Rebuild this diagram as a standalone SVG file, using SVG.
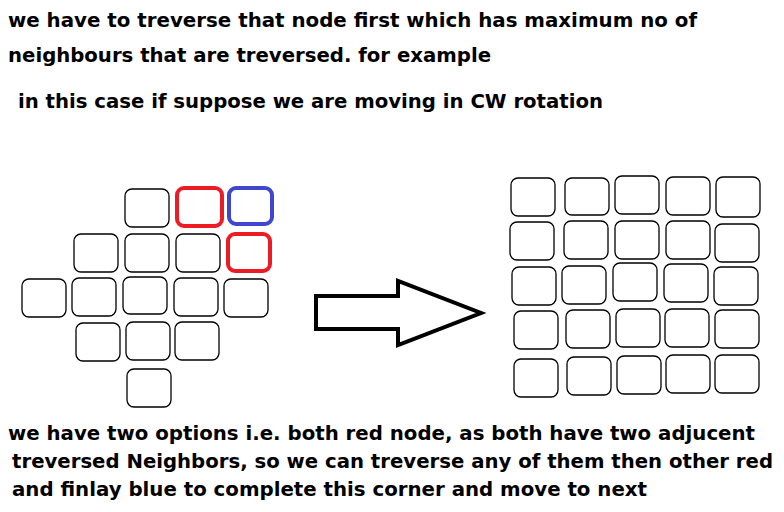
<svg xmlns="http://www.w3.org/2000/svg" width="784" height="512" viewBox="0 0 784 512">
<style>
text{font-family:"DejaVu Sans","Liberation Sans",sans-serif;font-weight:bold;font-size:20px;fill:#000}
.n{fill:#fff;stroke:#000;stroke-width:1.3}
.r{fill:#fff;stroke:#ed1c24;stroke-width:4}
.b{fill:#fff;stroke:#3f48cc;stroke-width:4}
</style>
<rect width="784" height="512" fill="#fff"/>
<g id="texts">
<text x="8" y="27" textLength="689" lengthAdjust="spacingAndGlyphs">we have to treverse that node first which has maximum no of</text>
<text x="8" y="62" textLength="483" lengthAdjust="spacingAndGlyphs">neighbours that are treversed. for example</text>
<text x="18" y="108" textLength="585" lengthAdjust="spacingAndGlyphs">in this case if suppose we are moving in CW rotation</text>
<text x="8" y="440" textLength="747" lengthAdjust="spacingAndGlyphs">we have two options i.e. both red node, as both have two adjucent</text>
<text x="12" y="468" textLength="761" lengthAdjust="spacingAndGlyphs">treversed Neighbors, so we can treverse any of them then other red</text>
<text x="12" y="496" textLength="635" lengthAdjust="spacingAndGlyphs">and finlay blue to complete this corner and move to next</text>
</g>
<g id="left-grid">
<rect id="L1" class="n" x="125" y="189" width="44" height="38" rx="7"/>
<rect id="L2" class="r" x="177" y="188" width="45" height="38" rx="7"/>
<rect id="L3" class="b" x="229" y="188" width="43" height="36" rx="7"/>
<rect id="L4" class="n" x="74" y="234" width="44" height="38" rx="7"/>
<rect id="L5" class="n" x="125" y="234" width="44" height="38" rx="7"/>
<rect id="L6" class="n" x="176" y="234" width="44" height="38" rx="7"/>
<rect id="L7" class="r" x="228" y="234" width="42" height="37" rx="7"/>
<rect id="L8" class="n" x="22" y="279" width="44" height="38" rx="7"/>
<rect id="L9" class="n" x="72" y="278" width="44" height="38" rx="7"/>
<rect id="L10" class="n" x="123" y="277" width="44" height="37" rx="7"/>
<rect id="L11" class="n" x="174" y="278" width="44" height="38" rx="7"/>
<rect id="L12" class="n" x="224" y="279" width="44" height="38" rx="7"/>
<rect id="L13" class="n" x="76" y="323" width="44" height="38" rx="7"/>
<rect id="L14" class="n" x="126" y="322" width="44" height="38" rx="7"/>
<rect id="L15" class="n" x="175" y="322" width="44" height="38" rx="7"/>
<rect id="L16" class="n" x="127" y="369" width="44" height="38" rx="7"/>
</g>
<g id="right-grid">
<rect class="n" x="511" y="178" width="44" height="38" rx="7"/>
<rect class="n" x="565" y="178" width="44" height="37" rx="7"/>
<rect class="n" x="615" y="176" width="44" height="38" rx="7"/>
<rect class="n" x="666" y="177" width="44" height="38" rx="7"/>
<rect class="n" x="716" y="177" width="44" height="40" rx="7"/>
<rect class="n" x="510" y="222" width="44" height="38" rx="7"/>
<rect class="n" x="564" y="221" width="44" height="38" rx="7"/>
<rect class="n" x="615" y="221" width="44" height="38" rx="7"/>
<rect class="n" x="666" y="221" width="44" height="38" rx="7"/>
<rect class="n" x="715" y="224" width="44" height="38" rx="7"/>
<rect class="n" x="512" y="267" width="44" height="38" rx="7"/>
<rect class="n" x="562" y="266" width="44" height="38" rx="7"/>
<rect class="n" x="613" y="263" width="44" height="38" rx="7"/>
<rect class="n" x="664" y="264" width="44" height="38" rx="7"/>
<rect class="n" x="714" y="267" width="44" height="38" rx="7"/>
<rect class="n" x="514" y="311" width="44" height="38" rx="7"/>
<rect class="n" x="566" y="310" width="44" height="38" rx="7"/>
<rect class="n" x="616" y="309" width="44" height="38" rx="7"/>
<rect class="n" x="665" y="309" width="44" height="38" rx="7"/>
<rect class="n" x="715" y="310" width="44" height="38" rx="7"/>
<rect class="n" x="514" y="359" width="44" height="38" rx="7"/>
<rect class="n" x="567" y="357" width="44" height="38" rx="7"/>
<rect class="n" x="617" y="356" width="44" height="38" rx="7"/>
<rect class="n" x="666" y="355" width="44" height="38" rx="7"/>
<rect class="n" x="715" y="355" width="44" height="38" rx="7"/>
</g>
<g id="connectors">
<polygon points="316,296 398,296 398,281 481,313 398,345 398,329 316,329" fill="#fff" stroke="#000" stroke-width="4" stroke-linejoin="miter"/>
</g>
</svg>
